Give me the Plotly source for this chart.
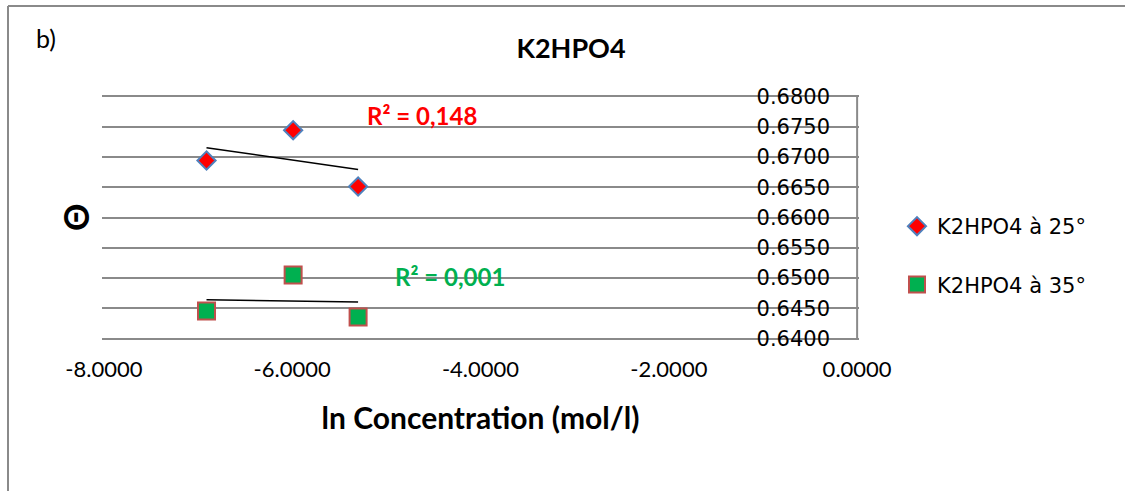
import numpy as np
import plotly.graph_objects as go

# ---- data ----
ln_conc = [-6.91, -5.99, -5.30]
theta_25 = [0.6694, 0.6744, 0.6651]
theta_35 = [0.6446, 0.6505, 0.6436]
series_names = ["K2HPO4 à 25°", "K2HPO4 à 35°"]
r2_labels = ["R² = 0,148", "R² = 0,001"]
x_tickvals = [-8, -6, -4, -2, 0]
x_ticktext = ["-8.0000", "-6.0000", "-4.0000", "-2.0000", "0.0000"]
y_tickvals = [0.640, 0.645, 0.650, 0.655, 0.660, 0.665, 0.670, 0.675, 0.680]
y_ticktext = ["0.6400", "0.6450", "0.6500", "0.6550", "0.6600", "0.6650", "0.6700", "0.6750", "0.6800"]

W, H = 1125, 491
L, R, T, B = 102, 266, 95, 151
pw, ph = W - L - R, H - T - B


def px_x(p):
    return (p - L) / pw


def px_y(p):
    return (H - B - p) / ph


CAL = "Lato, 'Open Sans', sans-serif"
DJV = "'DejaVu Sans', sans-serif"
GRID = "#8a8a8a"

fig = go.Figure()

fig.add_trace(go.Scatter(
    x=ln_conc, y=theta_25, mode="markers", name=series_names[0],
    legendgroup="a",
    marker=dict(symbol="diamond", size=14, color="#FF0000",
                line=dict(color="#4F81BD", width=2)),
))
fig.add_trace(go.Scatter(
    x=ln_conc, y=theta_35, mode="markers", name=series_names[1],
    legendgroup="b",
    marker=dict(symbol="square", size=17, color="#00B050",
                line=dict(color="#C0504D", width=2)),
))

# linear trendlines
xs = np.array([min(ln_conc), max(ln_conc)])
for ys in (theta_25, theta_35):
    a, b = np.polyfit(ln_conc, ys, 1)
    fig.add_trace(go.Scatter(x=xs, y=a * xs + b, mode="lines", showlegend=False,
                             line=dict(color="black", width=1.5), hoverinfo="skip"))

fig.update_layout(
    width=W, height=H,
    margin=dict(l=L, r=R, t=T, b=B),
    paper_bgcolor="white", plot_bgcolor="white",
    title=dict(text="<b>K2HPO4</b>", x=571 / W, xanchor="center",
               y=1 - 49 / H, yanchor="middle",
               font=dict(family=CAL, size=27, color="black")),
    xaxis=dict(range=[-8.02, 0.02], tickvals=x_tickvals, ticktext=x_ticktext,
               showgrid=False, zeroline=False, showline=False, ticks="",
               ticklabelstandoff=14, ticklabeloverflow="allow",
               tickfont=dict(family=CAL, size=22, color="black"),
               title=dict(text="<b>ln Concentration (mol/l)</b>", standoff=26,
                          font=dict(family=CAL, size=30, color="black"))),
    yaxis=dict(range=[0.6398, 0.6802], tickvals=y_tickvals, ticktext=y_ticktext,
               side="right", ticklabelposition="inside", ticks="",
               ticklabelstandoff=26, ticklabeloverflow="allow",
               showgrid=True, gridcolor=GRID, gridwidth=2,
               showline=False, zeroline=False,
               tickfont=dict(family=DJV, size=21, color="black")),
    legend=dict(x=px_x(897), xanchor="left", y=px_y(206), yanchor="top",
                font=dict(family=DJV, size=21, color="black"),
                tracegroupgap=28, bgcolor="rgba(0,0,0,0)"),
    showlegend=True,
)

# vertical value axis line at x = 0 (right edge of plot)
fig.add_shape(type="line", xref="x", yref="y", x0=0, x1=0, y0=0.64, y1=0.68,
              line=dict(color=GRID, width=2))

fig.add_annotation(text=r2_labels[0], x=-5.23, y=0.67689, xref="x", yref="y",
                   xanchor="left", yanchor="middle", showarrow=False,
                   font=dict(family=CAL, size=24, color="#FF0000", weight="bold"))
fig.add_annotation(text=r2_labels[1], x=-4.93, y=0.65033, xref="x", yref="y",
                   xanchor="left", yanchor="middle", showarrow=False,
                   font=dict(family=CAL, size=24, color="#00B050", weight="bold"))
fig.add_annotation(text="b)", x=px_x(34), y=px_y(38), xref="paper", yref="paper",
                   xanchor="left", yanchor="middle", showarrow=False,
                   font=dict(family=CAL, size=25, color="black"))
fig.add_annotation(text="<b>Θ</b>", x=px_x(75), y=px_y(218), xref="paper", yref="paper",
                   xanchor="center", yanchor="middle", showarrow=False, textangle=-90,
                   font=dict(family=CAL, size=34, color="black"))

# outer chart border: top and left edges (right and bottom lie outside the capture)
fig.add_shape(type="line", xref="paper", yref="paper",
              x0=px_x(8), x1=px_x(W + 20), y0=px_y(6), y1=px_y(6),
              line=dict(color=GRID, width=2))
fig.add_shape(type="line", xref="paper", yref="paper",
              x0=px_x(8), x1=px_x(8), y0=px_y(6), y1=px_y(H + 20),
              line=dict(color=GRID, width=2))

fig.write_html("out.html")
